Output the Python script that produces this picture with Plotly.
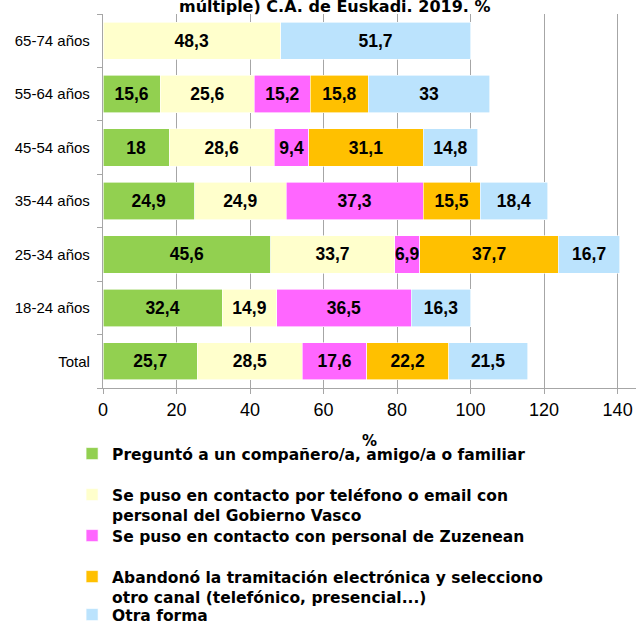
import plotly.graph_objects as go

# Age groups, listed bottom-to-top as they appear on the axis
groups = ["Total", "18-24 años", "25-34 años", "35-44 años",
          "45-54 años", "55-64 años", "65-74 años"]

# Percentages per response (None = no response in that group)
preguntó = [25.7, 32.4, 45.6, 24.9, 18, 15.6, None]
telefono_email = [28.5, 14.9, 33.7, 24.9, 28.6, 25.6, 48.3]
zuzenean = [17.6, 36.5, 6.9, 37.3, 9.4, 15.2, None]
abandonó = [22.2, None, 37.7, 15.5, 31.1, 15.8, None]
otra_forma = [21.5, 16.3, 16.7, 18.4, 14.8, 33, 51.7]

series_names = [
    "Preguntó a un compañero/a, amigo/a o familiar",
    "Se puso en contacto por teléfono o email con<br>personal del Gobierno Vasco",
    "Se puso en contacto con personal de Zuzenean",
    "Abandonó la tramitación electrónica y selecciono<br>otro canal (telefónico, presencial...)",
    "Otra forma",
]
series_values = [preguntó, telefono_email, zuzenean, abandonó, otra_forma]
series_colors = ["#92D050", "#FFFFCC", "#FF66FF", "#FFC000", "#BBE3FD"]

x_ticks = [0, 20, 40, 60, 80, 100, 120, 140]

# Figure geometry (pixels)
W, H = 636, 623
M_L, M_R, M_T, M_B = 103, 0, 14, 235
PLOT_H = H - M_T - M_B

# Top edge of each legend block, in pixels from the top of the page
legend_tops_px = [437, 478, 519, 560, 598]


def fmt(v):
    if v is None:
        return ""
    return f"{v:g}".replace(".", ",")


def px_to_paper_y(py):
    return (H - M_B - py) / PLOT_H


legend_ids = ["legend", "legend2", "legend3", "legend4", "legend5"]

fig = go.Figure()
for name, vals, color, lid in zip(series_names, series_values,
                                  series_colors, legend_ids):
    fig.add_trace(go.Bar(
        y=groups,
        x=vals,
        name=name,
        orientation="h",
        legend=lid,
        marker=dict(color=color, line=dict(color="white", width=0.6)),
        text=[fmt(v) for v in vals],
        textposition="inside",
        insidetextanchor="middle",
        textangle=0,
        textfont=dict(family="Liberation Sans, Arial, sans-serif",
                      size=17.5, color="black", weight="bold"),
        hoverinfo="skip",
    ))

legend_style = dict(
    orientation="v",
    x=-0.058,
    xanchor="left",
    yanchor="top",
    valign="top",
    font=dict(family="DejaVu Sans, sans-serif", size=15.5,
              color="black", weight="bold"),
    bgcolor="rgba(0,0,0,0)",
    borderwidth=0,
)

layout_legends = {}
for lid, top in zip(legend_ids, legend_tops_px):
    layout_legends[lid] = dict(legend_style, y=px_to_paper_y(top))

fig.update_layout(
    width=W,
    height=H,
    barmode="stack",
    bargap=0.3,
    plot_bgcolor="white",
    paper_bgcolor="white",
    margin=dict(l=M_L, r=M_R, t=M_T, b=M_B, autoexpand=False),
    uniformtext=dict(minsize=17.5, mode="show"),
    font=dict(family="Liberation Sans, Arial, sans-serif", color="black"),
    xaxis=dict(
        range=[0, 145],
        tickvals=x_ticks,
        ticktext=[str(t) for t in x_ticks],
        tickfont=dict(size=18, color="black"),
        showgrid=True,
        gridcolor="#A6A6A6",
        gridwidth=1.3,
        showline=True,
        linecolor="#A6A6A6",
        linewidth=1.3,
        ticks="outside",
        ticklen=5,
        tickcolor="#A6A6A6",
        zeroline=False,
        automargin=False,
        title=dict(text="<b>%</b>",
                   font=dict(family="DejaVu Sans, sans-serif", size=15,
                             color="black"),
                   standoff=16),
    ),
    yaxis=dict(
        categoryorder="array",
        categoryarray=groups,
        tickfont=dict(size=15, color="black"),
        showline=True,
        linecolor="#A6A6A6",
        linewidth=1.3,
        ticks="outside",
        tickson="boundaries",
        ticklen=5,
        tickcolor="#A6A6A6",
        showgrid=False,
        automargin=False,
        ticklabelstandoff=9,
    ),
    showlegend=True,
    **layout_legends,
)

fig.add_annotation(
    text="<b>múltiple) C.A. de Euskadi. 2019. %</b>",
    xref="paper", yref="paper",
    x=0.435, y=px_to_paper_y(7),
    xanchor="center", yanchor="middle",
    showarrow=False,
    font=dict(family="DejaVu Sans, sans-serif", size=16, color="black"),
)

fig.write_html("out.html")
